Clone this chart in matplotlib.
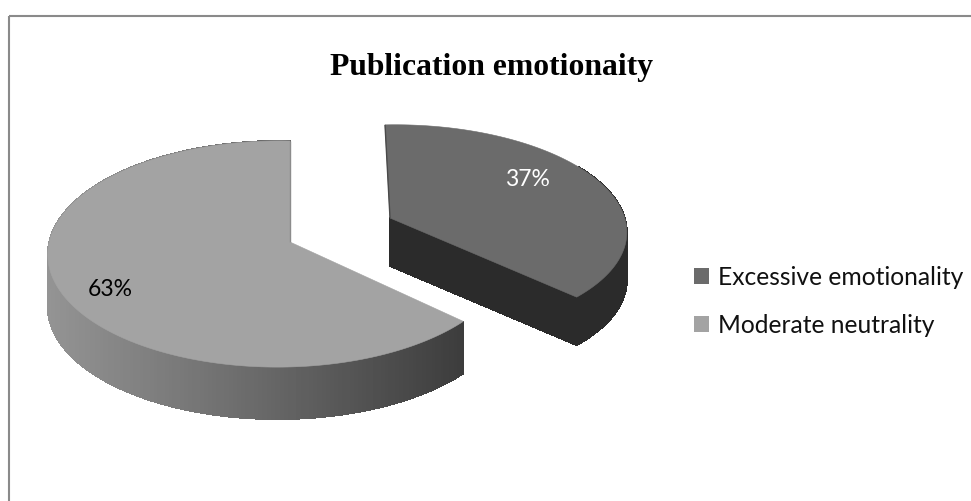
import numpy as np
import matplotlib
matplotlib.use("Agg")
import matplotlib.pyplot as plt
from matplotlib.collections import PolyCollection
from matplotlib.colors import LinearSegmentedColormap
from matplotlib.patches import Patch, Polygon, Rectangle

# Chart content
title = "Publication emotionaity"
categories = ["Excessive emotionality", "Moderate neutrality"]
shares = [37, 63]
label_colors = ["white", "black"]
top_colors = ["#6b6b6b", "#a3a3a3"]

# Projection of each exploded slice: a tilted disc seen in perspective
views = [
    dict(x0=390, y0=218, a=223, b=103, k=0.106, m=-0.05, s=-5.5, depth=48),
    dict(x0=290, y0=242, a=229, b=111.7, k=0.106, m=0.049, s=0.0, depth=52),
]
label_anchors = [(527, 180), (110, 289)]

wall_shade = LinearSegmentedColormap.from_list(
    "wall", ["#949494", "#6a6a6a", "#3c3c3c"])
dark_wall = "#2b2b2b"


def project(theta, view):
    """Map clockwise-from-top angles on the unit disc to canvas pixels."""
    u, v = np.sin(theta), np.cos(theta)
    d = 1 + view["k"] * v + view["m"] * u
    return (view["x0"] + (view["a"] * u + view["s"] * v) / d,
            view["y0"] - view["b"] * v / d)


def wall_quads(xs, ys, depth):
    quads = []
    for i in range(len(xs) - 1):
        quads.append([(xs[i], ys[i]), (xs[i + 1], ys[i + 1]),
                      (xs[i + 1], ys[i + 1] + depth), (xs[i], ys[i] + depth)])
    return quads


fig = plt.figure(figsize=(9.71, 5.01), dpi=100, facecolor="white")
ax = fig.add_axes([0, 0, 1, 1])
ax.set_xlim(0, 971)
ax.set_ylim(501, 0)
ax.axis("off")

# Chart border: the top and left sides fall inside the canvas
ax.add_patch(Rectangle((8.5, 16), 1100, 700, fill=False,
                       edgecolor="#8a8a8a", linewidth=1.5))

edges = np.cumsum([0] + shares) / sum(shares) * 2 * np.pi

for idx, view in enumerate(views):
    theta = np.linspace(edges[idx], edges[idx + 1], 240)
    xs, ys = project(theta, view)
    depth = view["depth"]
    cx, cy = float(view["x0"]), float(view["y0"])

    if idx == 0:
        # Dark slice: only the lower part of the rim shows, plus the cut face
        lower = theta > np.pi / 3
        quads = wall_quads(xs[lower], ys[lower], depth)
        quads += wall_quads(np.array([cx, xs[-1]]), np.array([cy, ys[-1]]), depth)
        walls = PolyCollection(quads, facecolors=dark_wall, edgecolors=dark_wall,
                               linewidths=0.6, antialiaseds=False)
    else:
        # Light slice: outer wall shaded from left to right
        quads = wall_quads(xs, ys, depth)
        shade = np.clip((xs[:-1] - 47) / (466 - 47), 0, 1)
        walls = PolyCollection(quads, array=shade, cmap=wall_shade,
                               edgecolors="face", linewidths=0.6,
                               antialiaseds=False)
        walls.set_clim(0, 1)
    ax.add_collection(walls)

    outline = np.column_stack([np.r_[cx, xs], np.r_[cy, ys]])
    ax.add_patch(Polygon(outline, closed=True, facecolor=top_colors[idx],
                         edgecolor=top_colors[idx], linewidth=0.4))

    # Thin shaded rim along the straight upright edge of each slice
    rim_color = "#4a4a4a" if idx == 0 else "#8c8c8c"
    ref = xs[0] if idx == 0 else xs[-1]
    ref_y = ys[0] if idx == 0 else ys[-1]
    ax.plot([ref, cx], [ref_y, cy], color=rim_color, linewidth=1.0,
            solid_capstyle="butt")

for anchor, share, color in zip(label_anchors, shares, label_colors):
    ax.text(anchor[0], anchor[1], f"{share}%", color=color, family="Lato",
            fontsize=16.5, ha="center", va="center")

ax.text(491.5, 75, title, family="Liberation Serif", fontweight="bold",
        fontsize=22.8, ha="center", va="baseline", color="black")

handles = [Patch(facecolor=c, edgecolor=c, linewidth=0) for c in top_colors]
ax.legend(handles, categories, loc="upper left",
          bbox_to_anchor=(694 / 971, 1 - 266 / 501), frameon=False,
          prop={"family": "Lato", "size": 17.7}, borderpad=0, borderaxespad=0,
          handlelength=0.61, handleheight=0.61, handletextpad=0.37,
          labelspacing=1.0, labelcolor="#111111")

fig.savefig("out.png", dpi=100, facecolor="white")
